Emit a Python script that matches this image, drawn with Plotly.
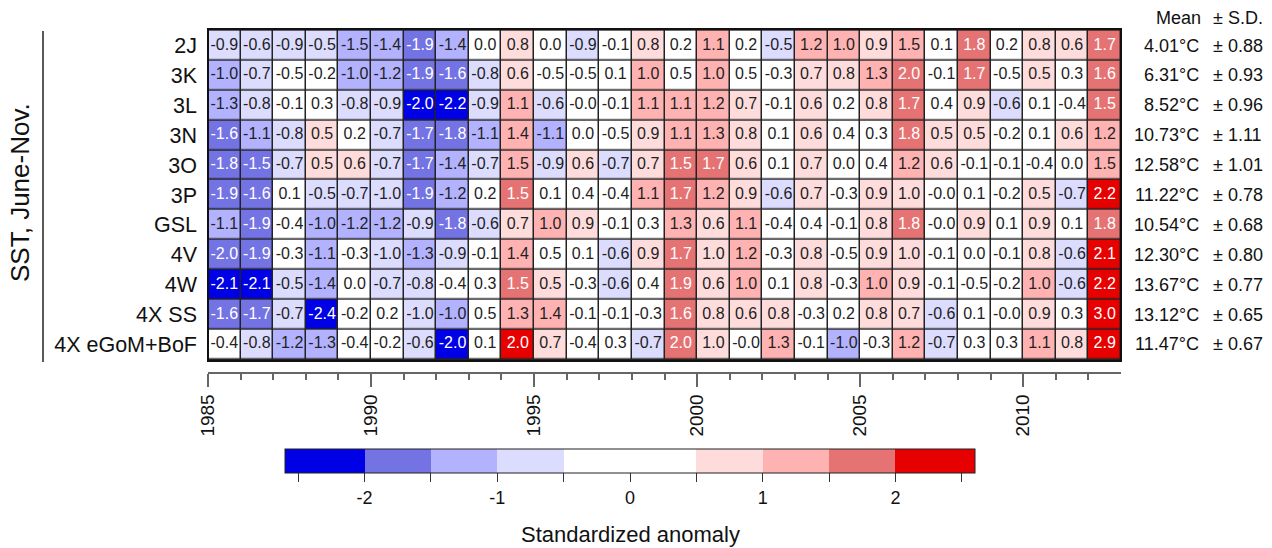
import plotly.graph_objects as go

FONT = "Liberation Sans, Arial, sans-serif"

years = list(range(1985, 2013))
regions = ["2J", "3K", "3L", "3N", "3O", "3P", "GSL", "4V", "4W", "4X SS", "4X eGoM+BoF"]

anom_2J = [-0.9, -0.6, -0.9, -0.52, -1.48, -1.4, -1.9, -1.4, 0.0, 0.8, 0.0, -0.9, -0.1, 0.8,
           0.2, 1.1, 0.2, -0.52, 1.2, 1.02, 0.9, 1.48, 0.1, 1.8, 0.2, 0.8, 0.6, 1.7]
anom_3K = [-1.02, -0.7, -0.48, -0.2, -1.02, -1.2, -1.9, -1.6, -0.8, 0.6, -0.48, -0.48, 0.1, 1.02,
           0.48, 1.02, 0.48, -0.3, 0.7, 0.8, 1.3, 1.98, -0.1, 1.7, -0.48, 0.52, 0.3, 1.6]
anom_3L = [-1.3, -0.8, -0.1, 0.3, -0.8, -0.9, -2.02, -2.2, -0.9, 1.1, -0.6, -0.02, -0.1, 1.1,
           1.1, 1.2, 0.7, -0.1, 0.6, 0.2, 0.8, 1.7, 0.4, 0.9, -0.6, 0.1, -0.4, 1.52]
anom_3N = [-1.6, -1.1, -0.8, 0.52, 0.2, -0.7, -1.7, -1.8, -1.1, 1.4, -1.1, 0.0, -0.48, 0.9,
           1.1, 1.3, 0.8, 0.1, 0.6, 0.4, 0.3, 1.8, 0.52, 0.52, -0.2, 0.1, 0.6, 1.2]
anom_3O = [-1.8, -1.52, -0.7, 0.52, 0.6, -0.7, -1.7, -1.4, -0.7, 1.48, -0.9, 0.6, -0.7, 0.7,
           1.52, 1.7, 0.6, 0.1, 0.7, 0.0, 0.4, 1.2, 0.6, -0.1, -0.1, -0.4, 0.0, 1.48]
anom_3P = [-1.9, -1.6, 0.1, -0.52, -0.7, -0.98, -1.9, -1.2, 0.2, 1.52, 0.1, 0.4, -0.4, 1.1,
           1.7, 1.2, 0.9, -0.6, 0.7, -0.3, 0.9, 0.98, -0.02, 0.1, -0.2, 0.52, -0.7, 2.2]
anom_GSL = [-1.1, -1.9, -0.4, -1.02, -1.2, -1.2, -0.9, -1.8, -0.6, 0.7, 1.02, 0.9, -0.1, 0.3,
            1.3, 0.6, 1.1, -0.4, 0.4, -0.1, 0.8, 1.8, -0.02, 0.9, 0.1, 0.9, 0.1, 1.8]
anom_4V = [-1.98, -1.9, -0.3, -1.1, -0.3, -0.98, -1.3, -0.9, -0.1, 1.4, 0.48, 0.1, -0.6, 0.9,
           1.7, 0.98, 1.2, -0.3, 0.8, -0.48, 0.9, 0.98, -0.1, 0.0, -0.1, 0.8, -0.6, 2.1]
anom_4W = [-2.1, -2.1, -0.52, -1.4, 0.0, -0.7, -0.8, -0.4, 0.3, 1.52, 0.52, -0.3, -0.6, 0.4,
           1.9, 0.6, 1.02, 0.1, 0.8, -0.3, 1.02, 0.9, -0.1, -0.48, -0.2, 1.02, -0.6, 2.2]
anom_4XSS = [-1.6, -1.7, -0.7, -2.4, -0.2, 0.2, -0.98, -1.02, 0.48, 1.3, 1.4, -0.1, -0.1, -0.3,
             1.6, 0.8, 0.6, 0.8, -0.3, 0.2, 0.8, 0.7, -0.6, 0.1, -0.02, 0.9, 0.3, 3.0]
anom_4XeGoM = [-0.4, -0.8, -1.2, -1.3, -0.4, -0.2, -0.6, -2.02, 0.1, 2.02, 0.7, -0.4, 0.3, -0.7,
               1.98, 0.98, -0.02, 1.3, -0.1, -1.02, -0.3, 1.2, -0.7, 0.3, 0.3, 1.1, 0.8, 2.9]

means = [4.01, 6.31, 8.52, 10.73, 12.58, 11.22, 10.54, 12.30, 13.67, 13.12, 11.47]
sds = [0.88, 0.93, 0.96, 1.11, 1.01, 0.78, 0.68, 0.80, 0.77, 0.65, 0.67]

bin_edges = [-2.6, -2.0, -1.5, -1.0, -0.5, 0.5, 1.0, 1.5, 2.0, 2.6]
bin_colors = ["rgb(0,0,230)", "rgb(115,115,228)", "rgb(178,178,255)", "rgb(220,220,255)",
              "rgb(255,255,255)", "rgb(255,220,220)", "rgb(255,178,178)", "rgb(230,115,115)",
              "rgb(230,0,0)"]
cb_tickvals = [-2.5, -2, -1.5, -1, -0.5, 0, 0.5, 1, 1.5, 2, 2.5]
cb_ticktext = ["", "-2", "", "-1", "", "0", "", "1", "", "2", ""]

z = [anom_2J, anom_3K, anom_3L, anom_3N, anom_3O, anom_3P, anom_GSL, anom_4V, anom_4W,
     anom_4XSS, anom_4XeGoM]

zmin, zmax = bin_edges[0], bin_edges[-1]
def norm(v):
    return (v - zmin) / (zmax - zmin)
colorscale = []
for i, c in enumerate(bin_colors):
    colorscale.append([norm(bin_edges[i]), c])
    colorscale.append([norm(bin_edges[i + 1]), c])
colorscale[0][0] = 0.0
colorscale[-1][0] = 1.0

W, H = 1272, 548
ml, mr, mt, mb = 208, 151, 29, 175
pw = W - ml - mr
ph = H - mt - mb
heat_bottom_px = 361
ydom0 = (H - mb - heat_bottom_px) / ph

def px_to_xpaper(px):
    return (px - ml) / pw
def px_to_ypaper(py):
    return (H - mb - py) / ph

fig = go.Figure()
fig.add_trace(go.Heatmap(
    z=z, x=years, y=regions, zmin=zmin, zmax=zmax, colorscale=colorscale,
    xgap=1.5, ygap=1.5, hoverinfo="skip",
    colorbar=dict(
        orientation="h", lenmode="pixels", len=690, thickness=24,
        x=px_to_xpaper(630), xanchor="center", y=px_to_ypaper(449), yanchor="top",
        xpad=0, ypad=0, outlinecolor="#222", outlinewidth=1,
        tickmode="array", tickvals=cb_tickvals, ticktext=cb_ticktext,
        ticks="outside", ticklen=9, tickwidth=1, tickcolor="#333",
        tickfont=dict(family=FONT, size=18, color="#111"),
    ),
))

xs, ys, texts, tcolors = [], [], [], []
for r, row in zip(regions, z):
    for yr, v in zip(years, row):
        xs.append(yr)
        ys.append(r)
        texts.append(f"{v:.1f}")
        tcolors.append("white" if (v <= -1.5 or v >= 1.5) else "#222")
fig.add_trace(go.Scatter(
    x=xs, y=ys, mode="text", text=texts,
    textfont=dict(family=FONT, size=16, color=tcolors),
    hoverinfo="skip", showlegend=False,
))

for r, m, s in zip(regions, means, sds):
    fig.add_annotation(x=px_to_xpaper(1201), xref="paper", y=r, yref="y", text=f"{m:.2f}°C",
                       showarrow=False, xanchor="right", yanchor="middle",
                       font=dict(family=FONT, size=18, color="#111"))
    fig.add_annotation(x=px_to_xpaper(1211), xref="paper", y=r, yref="y", text=f"± {s:.2f}",
                       showarrow=False, xanchor="left", yanchor="middle",
                       font=dict(family=FONT, size=18, color="#111"))
fig.add_annotation(x=px_to_xpaper(1203), xref="paper", y=px_to_ypaper(18), yref="paper",
                   text="Mean", showarrow=False, xanchor="right", yanchor="middle",
                   font=dict(family=FONT, size=18, color="#111"))
fig.add_annotation(x=px_to_xpaper(1211), xref="paper", y=px_to_ypaper(18), yref="paper",
                   text="± S.D.", showarrow=False, xanchor="left", yanchor="middle",
                   font=dict(family=FONT, size=18, color="#111"))
fig.add_annotation(x=px_to_xpaper(20), xref="paper", y=px_to_ypaper(193), yref="paper",
                   text="SST, June-Nov.", showarrow=False, textangle=-90,
                   xanchor="center", yanchor="middle",
                   font=dict(family=FONT, size=26, color="#111"))
fig.add_annotation(x=px_to_xpaper(630), xref="paper", y=px_to_ypaper(534), yref="paper",
                   text="Standardized anomaly", showarrow=False,
                   xanchor="center", yanchor="middle",
                   font=dict(family=FONT, size=22, color="#111"))

fig.add_shape(type="line", xref="paper", yref="paper",
              x0=px_to_xpaper(43), x1=px_to_xpaper(43),
              y0=px_to_ypaper(31), y1=px_to_ypaper(362),
              line=dict(color="#222", width=1.5))
fig.add_shape(type="rect", xref="x domain", yref="y domain", x0=0, x1=1, y0=0, y1=1,
              line=dict(color="#111", width=2))

fig.update_layout(
    width=W, height=H, margin=dict(l=ml, r=mr, t=mt, b=mb, pad=0),
    paper_bgcolor="white", plot_bgcolor="#222",
    font=dict(family=FONT, color="#111"),
    xaxis=dict(
        range=[years[0] - 0.5, years[-1] + 0.5], anchor="free", position=0,
        showgrid=False, zeroline=False, showline=True, linecolor="#666", linewidth=1.5,
        tickmode="array", tickvals=[y - 0.5 for y in years if y % 5 == 0],
        ticktext=[str(y) for y in years if y % 5 == 0],
        ticks="outside", ticklen=13, tickwidth=1.5, tickcolor="#666", tickangle=-90,
        tickfont=dict(family=FONT, size=19, color="#111"),
        minor=dict(tickvals=[y - 0.5 for y in years], ticks="outside", ticklen=6,
                   tickwidth=1.5, tickcolor="#666"),
    ),
    yaxis=dict(
        domain=[ydom0, 1], autorange="reversed", type="category",
        showgrid=False, zeroline=False, showline=False, ticks="",
        ticklabelstandoff=10, tickfont=dict(family=FONT, size=21.5, color="#111"),
    ),
)

fig.write_html("out.html", config={"displayModeBar": False},
               post_script="document.body.style.margin='0px';document.body.style.overflow='hidden';")
